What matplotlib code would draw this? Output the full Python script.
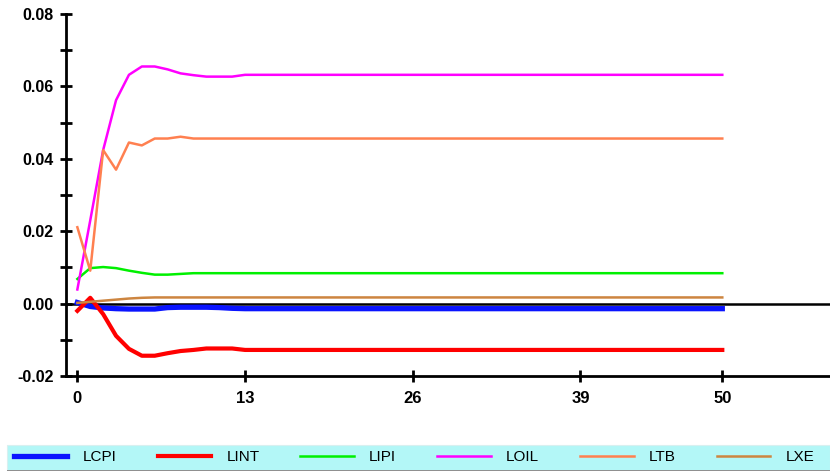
import matplotlib
matplotlib.use("Agg")
import matplotlib.pyplot as plt
from matplotlib.ticker import MultipleLocator, FixedLocator, FuncFormatter
from matplotlib.patches import Rectangle
import numpy as np

steps = list(range(51))

lcpi_head = [0.0003, -0.0008, -0.0012, -0.0014, -0.0015, -0.0015, -0.0015, -0.0011,
             -0.0010, -0.0010, -0.0010, -0.0011, -0.0013]
lint_head = [-0.0020, 0.0016, -0.0029, -0.0089, -0.0125, -0.0144, -0.0144, -0.0137,
             -0.0131, -0.0128, -0.0124, -0.0124, -0.0124]
lipi_head = [0.0068, 0.0098, 0.0101, 0.0098, 0.0091, 0.0085, 0.0080, 0.0080,
             0.0082, 0.0084, 0.0084, 0.0084, 0.0084]
loil_head = [0.0039, 0.0230, 0.0424, 0.0562, 0.0632, 0.0655, 0.0655, 0.0647,
             0.0636, 0.0631, 0.0627, 0.0627, 0.0627]
ltb_head = [0.0211, 0.0091, 0.0424, 0.0370, 0.0445, 0.0437, 0.0456, 0.0456,
            0.0461, 0.0456, 0.0456, 0.0456, 0.0456]
lxe_head = [0.0002, 0.0005, 0.0008, 0.0011, 0.0014, 0.0016, 0.0017, 0.0017,
            0.0017, 0.0017, 0.0017, 0.0017, 0.0017]

lcpi_tail = -0.0014
lint_tail = -0.0128
lipi_tail = 0.0084
loil_tail = 0.0632
ltb_tail = 0.0456
lxe_tail = 0.0017

def full(head, tail):
    return head + [tail] * (len(steps) - len(head))

series = [
    ("LCPI", full(lcpi_head, lcpi_tail), "#0a14ff", 3.8),
    ("LINT", full(lint_head, lint_tail), "#ff0000", 3.0),
    ("LIPI", full(lipi_head, lipi_tail), "#00f000", 1.8),
    ("LOIL", full(loil_head, loil_tail), "#ff00ff", 1.8),
    ("LTB", full(ltb_head, ltb_tail), "#ff8050", 1.8),
    ("LXE", full(lxe_head, lxe_tail), "#cd8540", 1.8),
]

xticks = [0, 13, 26, 39, 50]

fig = plt.figure(figsize=(8.30, 4.71), dpi=100)
ax = fig.add_axes([66/830, 95/471, 764/830, 362/471])

ax.axhline(0, color="black", lw=1.8, zorder=1.5)
handles = []
for name, vals, col, lw in series:
    h, = ax.plot(steps, vals, color=col, lw=lw, label=name, zorder=2,
                 solid_joinstyle="round")
    handles.append(h)

ax.set_xlim(-0.88, 58.35)
ax.set_ylim(-0.02, 0.08)
for s in ["top", "right"]:
    ax.spines[s].set_visible(False)
for s in ["left", "bottom"]:
    ax.spines[s].set_linewidth(2)

ax.yaxis.set_major_locator(MultipleLocator(0.02))
ax.yaxis.set_minor_locator(MultipleLocator(0.01))
ax.yaxis.set_major_formatter(FuncFormatter(lambda v, p: f"{v:.2f}"))
ax.xaxis.set_major_locator(FixedLocator(xticks))
ax.tick_params(axis="both", which="both", direction="inout", length=8, width=2)
ax.tick_params(axis="y", pad=5)
ax.tick_params(axis="x", pad=7)
for lab in ax.get_yticklabels():
    lab.set_fontfamily(["Liberation Sans", "DejaVu Sans"])
    lab.set_fontweight("bold")
    lab.set_fontsize(11.5)
for lab in ax.get_xticklabels():
    lab.set_fontfamily(["Liberation Sans Narrow", "Liberation Sans", "DejaVu Sans"])
    lab.set_fontweight("bold")
    lab.set_fontsize(12)

# legend band
fig.patches.append(Rectangle((7/830, 0.5/471), 823/830, 26/471, transform=fig.transFigure,
                             facecolor="#b3f7f7", edgecolor="#d8f0f0", lw=0.8, zorder=0))
fig.patches.append(Rectangle((7/830, 0.0), 823/830, 1.5/471, transform=fig.transFigure,
                             facecolor="#909090", edgecolor="none", zorder=0))
leg = fig.legend(handles, [s[0] for s in series], loc="center left", ncol=6,
                 bbox_to_anchor=(14/830, 14/471), frameon=False,
                 prop={"family": ["Liberation Sans Narrow", "Liberation Sans", "DejaVu Sans"], "size": 11},
                 handlelength=3.5, handletextpad=1.0, columnspacing=2.68,
                 borderaxespad=0, borderpad=0)

fig.savefig("out.png", dpi=100)
